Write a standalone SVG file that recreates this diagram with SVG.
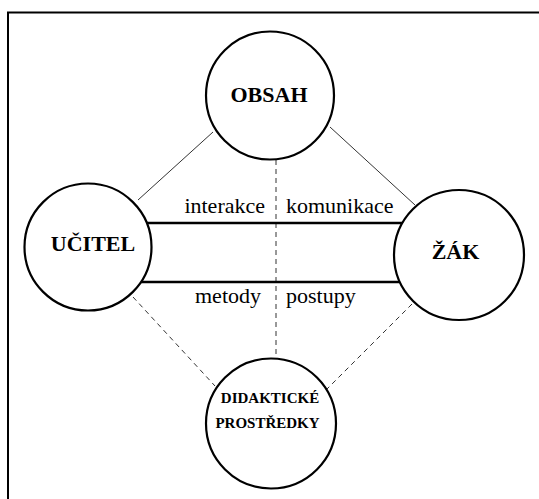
<svg xmlns="http://www.w3.org/2000/svg" width="539" height="499" viewBox="0 0 539 499">
<style>
.frame{fill:none;stroke:#000;stroke-width:2}
.node{fill:#fff;stroke:#000;stroke-width:2.2}
.thin{stroke:#333;stroke-width:1;fill:none}
.dash{stroke:#333;stroke-width:1;stroke-dasharray:5,4;fill:none}
.bar{stroke:#000;stroke-width:2.6;fill:none}
text{font-family:'Liberation Serif','Times New Roman','DejaVu Serif',serif;fill:#000}
.lbl{font-size:22px}
.nt{font-size:22px;font-weight:bold;text-anchor:middle}
.st{font-size:15px;font-weight:bold;text-anchor:middle}
</style>
<rect width="539" height="499" fill="#fff"/>
<path class="frame" d="M8,499 V12.5 H539"/>
<g id="connectors">
<line class="thin" x1="213" y1="132" x2="138" y2="200"/>
<line class="thin" x1="330" y1="127" x2="415" y2="205"/>
<line class="dash" x1="133" y1="297" x2="215" y2="386"/>
<line class="dash" x1="412" y1="304" x2="327" y2="389"/>
<line class="dash" x1="276" y1="160" x2="276" y2="358"/>
<line class="bar" x1="120" y1="223" x2="420" y2="223"/>
<line class="bar" x1="120" y1="282" x2="420" y2="282"/>
<text class="lbl" x="265" y="213" text-anchor="end" font-family="Liberation Serif, serif">interakce</text>
<text class="lbl" x="286" y="213" font-family="Liberation Serif, serif">komunikace</text>
<text class="lbl" x="261" y="303" text-anchor="end" font-family="Liberation Serif, serif">metody</text>
<text class="lbl" x="286" y="303" font-family="Liberation Serif, serif">postupy</text>
</g>
<g id="obsah">
<circle class="node" cx="270" cy="95.5" r="64"/>
<text class="nt" x="269" y="102" font-family="Liberation Serif, serif">OBSAH</text>
</g>
<g id="ucitel">
<circle class="node" cx="88" cy="247" r="63.5"/>
<text class="nt" x="93" y="251" font-family="Liberation Serif, serif">UČITEL</text>
</g>
<g id="zak">
<circle class="node" cx="459" cy="255" r="65"/>
<text class="nt" x="455.5" y="259" font-family="Liberation Serif, serif">ŽÁK</text>
</g>
<g id="didakticke">
<circle class="node" cx="271" cy="423.5" r="65"/>
<text class="st" x="270" y="403" font-family="Liberation Serif, serif">DIDAKTICKÉ</text>
<text class="st" x="267.5" y="428" font-family="Liberation Serif, serif">PROSTŘEDKY</text>
</g>
</svg>
